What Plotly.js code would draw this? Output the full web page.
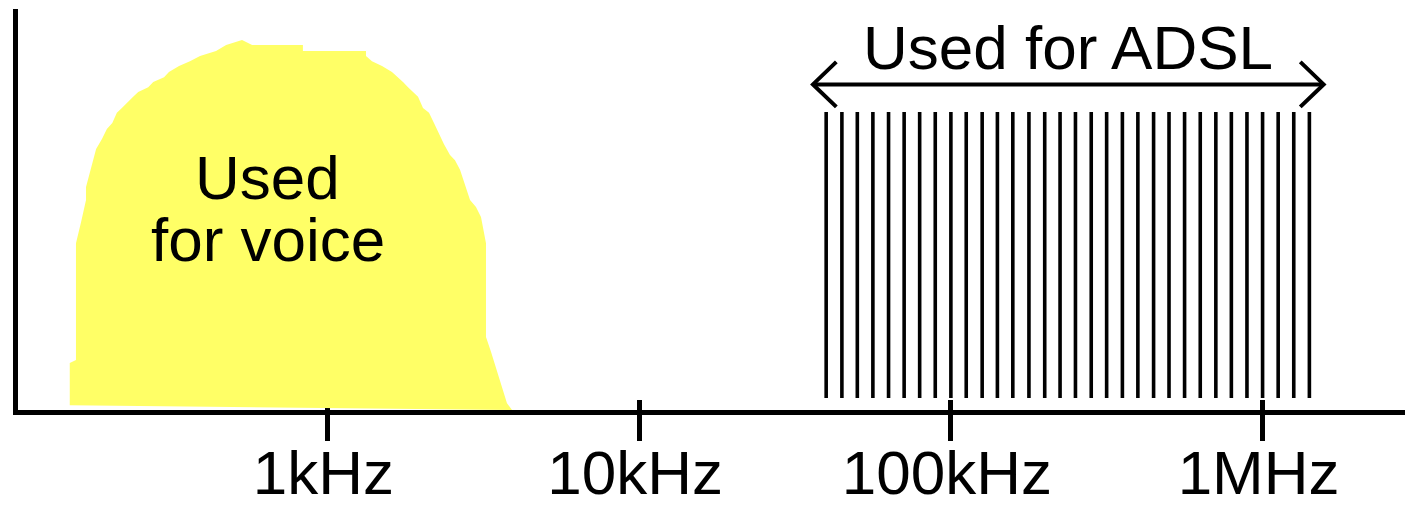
<!DOCTYPE html>
<html><head><meta charset="utf-8">
<script src="https://cdn.plot.ly/plotly-3.0.1.min.js"></script>
<style>html,body{margin:0;padding:0;background:#fff;overflow:hidden}#chart{width:1405px;height:505px}</style>
</head><body><div id="chart"></div>
<script>
// ---- data ----
const tickFreqs = [1000, 10000, 100000, 1000000];
const tickLabels = ['1kHz', '10kHz', '100kHz', '1MHz'];

// outline of the voice band (Hz, relative level 0-100)
const voiceFreq = [149, 149, 156, 156, 162, 168, 168, 174, 181, 189, 196, 204, 211, 219, 227, 238, 247, 266, 276, 299, 310, 334, 362, 390, 439, 473, 532, 573, 834, 834, 1329, 1329, 1389, 1496, 1610, 1683, 1747, 1813, 1881, 1952, 2025, 2117, 2196, 2279, 2365, 2472, 2565, 2662, 2761, 2866, 2995, 3108, 3225, 3225, 3346, 3472, 3629, 3766, 3908];
const voiceLevel = [1.2, 11.7, 12.5, 41.6, 46.9, 52.4, 55.6, 59.9, 65.1, 67.6, 70.1, 71.6, 74.1, 75.3, 76.6, 78.1, 79.3, 80.5, 81.8, 83.0, 84.3, 85.8, 87.0, 88.3, 89.5, 91.0, 92.3, 91.0, 91.0, 89.5, 89.5, 88.3, 87.0, 85.8, 84.3, 83.0, 81.8, 80.5, 79.3, 78.1, 75.3, 74.1, 71.6, 68.8, 66.3, 63.6, 62.3, 59.9, 55.9, 52.4, 50.6, 48.1, 41.6, 18.2, 14.5, 10.5, 5.5, 1.7, 0];

// ADSL carriers (kHz)
const adslCarrierKHz = [39.8, 44.7, 50.1, 56.2, 63.1, 70.8, 79.4, 89.1, 100, 112, 126, 141, 158, 178, 200, 224, 251, 282, 316, 355, 398, 447, 501, 562, 631, 708, 794, 891, 1000, 1122, 1259, 1413];
const adslLevelLow = 3;
const adslLevelHigh = 74.3;
const adslSpanKHz = [36.1, 1570];
const adslArrowLevel = 81.2;

const voiceLabelLines = ['Used', 'for voice'];
const voiceLabelFreq = 644;
const voiceLabelLevels = [58, 42.4];
const adslLabel = 'Used for ADSL';
const adslLabelLevel = 90.4;

// ---- build traces ----
const FONT = 'Liberation Sans, Arial, sans-serif';
const carrierX = [], carrierY = [];
adslCarrierKHz.forEach(k => { carrierX.push(k * 1000, k * 1000, null); carrierY.push(adslLevelLow, adslLevelHigh, null); });

const headDec = 0.075, headUp = 5.6; // arrow-head size (style)
const a0 = adslSpanKHz[0] * 1000, a1 = adslSpanKHz[1] * 1000;
const arrowX = [a0 * Math.pow(10, headDec), a0, a0 * Math.pow(10, headDec), null, a0, a1, null,
                a1 / Math.pow(10, headDec), a1, a1 / Math.pow(10, headDec)];
const arrowY = [adslArrowLevel + headUp, adslArrowLevel, adslArrowLevel - headUp, null, adslArrowLevel, adslArrowLevel, null,
                adslArrowLevel + headUp, adslArrowLevel, adslArrowLevel - headUp];

const traces = [
  {x: voiceFreq, y: voiceLevel, type: 'scatter', mode: 'lines', fill: 'toself', fillcolor: '#FFFF66', line: {width: 0, color: '#FFFF66'}, hoverinfo: 'skip'},
  {x: carrierX, y: carrierY, type: 'scatter', mode: 'lines', line: {color: '#000', width: 3.6}, hoverinfo: 'skip'},
  {x: arrowX, y: arrowY, xaxis: 'x2', type: 'scatter', mode: 'lines', line: {color: '#000', width: 4}, hoverinfo: 'skip'}
];

const ann = voiceLabelLines.map((t, i) => ({
  x: Math.log10(voiceLabelFreq), y: voiceLabelLevels[i], xref: 'x', yref: 'y', text: t, showarrow: false,
  font: {family: FONT, size: 62, color: '#000'}, xanchor: 'center', yanchor: 'middle'
}));
ann.push({x: Math.log10(Math.sqrt(a0 * a1)), y: adslLabelLevel, xref: 'x', yref: 'y', text: adslLabel, showarrow: false,
  font: {family: FONT, size: 62, color: '#000'}, xanchor: 'center', yanchor: 'middle'});

const xr = [2.0071, 6.4569];
const layout = {
  width: 1405, height: 505,
  margin: {l: 18, r: 0, t: 9, b: 95},
  paper_bgcolor: '#fff', plot_bgcolor: '#fff',
  showlegend: false,
  xaxis: {type: 'log', range: xr, showgrid: false, zeroline: false, showline: true, linecolor: '#000', linewidth: 5,
    tickmode: 'array', tickvals: tickFreqs, ticktext: tickLabels, ticks: 'inside', ticklen: 10, tickwidth: 5, tickcolor: '#000',
    tickfont: {family: FONT, size: 62, color: '#000'}, ticklabelshift: -4, ticklabelstandoff: 5, layer: 'below traces', fixedrange: true},
  xaxis2: {type: 'log', range: xr, overlaying: 'x', anchor: 'y', side: 'bottom', showgrid: false, zeroline: false, showline: false,
    tickmode: 'array', tickvals: tickFreqs, ticks: 'outside', ticklen: 30, tickwidth: 5, tickcolor: '#000', showticklabels: false,
    fixedrange: true},
  yaxis: {range: [0, 100], showgrid: false, zeroline: false, showline: true, linecolor: '#000', linewidth: 5,
    ticks: '', showticklabels: false, fixedrange: true},
  annotations: ann
};
Plotly.newPlot('chart', traces, layout, {displayModeBar: false, staticPlot: true});
</script></body></html>
